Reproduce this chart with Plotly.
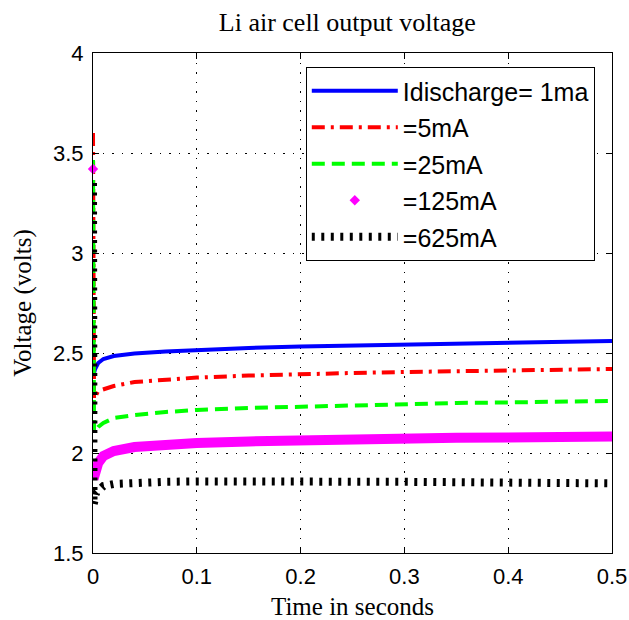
import plotly.graph_objects as go

# ---- data ----
x_ticks = [0, 0.1, 0.2, 0.3, 0.4, 0.5]
y_ticks = [1.5, 2, 2.5, 3, 3.5, 4]

t_blue = [0, 0.002, 0.005, 0.01, 0.02, 0.04, 0.07, 0.1, 0.15, 0.2, 0.25, 0.3, 0.35, 0.4, 0.45, 0.5]
v_blue = [2.38, 2.42, 2.45, 2.47, 2.485, 2.497, 2.507, 2.515, 2.525, 2.533, 2.538, 2.543, 2.548, 2.552, 2.556, 2.56]

t_red = [0, 0.001, 0.005, 0.01, 0.02, 0.04, 0.07, 0.1, 0.15, 0.2, 0.25, 0.3, 0.35, 0.4, 0.45, 0.5]
v_red = [3.6, 2.27, 2.31, 2.32, 2.335, 2.355, 2.368, 2.377, 2.387, 2.395, 2.40, 2.405, 2.41, 2.413, 2.417, 2.42]

t_green = [0, 0.001, 0.005, 0.01, 0.02, 0.04, 0.07, 0.1, 0.15, 0.2, 0.25, 0.3, 0.35, 0.4, 0.45, 0.5]
v_green = [3.465, 2.10, 2.13, 2.15, 2.175, 2.19, 2.205, 2.215, 2.225, 2.232, 2.238, 2.245, 2.25, 2.253, 2.256, 2.26]

t_mag_start = [0]
v_mag_start = [3.42]
t_mag = [0.0005, 0.002, 0.005, 0.01, 0.02, 0.04, 0.07, 0.1, 0.15, 0.2, 0.25, 0.3, 0.35, 0.4, 0.45, 0.5]
v_mag = [1.87, 1.90, 1.95, 1.985, 2.01, 2.03, 2.043, 2.05, 2.058, 2.065, 2.07, 2.073, 2.076, 2.078, 2.08, 2.082]

t_black = [0, 0.0005, 0.003, 0.006, 0.01, 0.02, 0.04, 0.07, 0.1, 0.15, 0.2, 0.25, 0.3, 0.35, 0.4, 0.45, 0.5]
v_black = [3.35, 1.74, 1.80, 1.82, 1.835, 1.845, 1.852, 1.856, 1.858, 1.86, 1.86, 1.858, 1.856, 1.854, 1.852, 1.85, 1.848]

names = ["Idischarge= 1ma", "=5mA", "=25mA", "=125mA", "=625mA"]

fig = go.Figure()
fig.add_trace(go.Scatter(x=t_blue, y=v_blue, mode="lines", name=names[0], legendgroup="a",
                         line=dict(color="#0000ff", width=4)))
fig.add_trace(go.Scatter(x=t_red, y=v_red, mode="lines", name=names[1], legendgroup="b",
                         line=dict(color="#ff0000", width=4, dash="13px,6px,3px,6px")))
fig.add_trace(go.Scatter(x=t_green, y=v_green, mode="lines", name=names[2], legendgroup="c",
                         line=dict(color="#00ff00", width=4, dash="13px,7px")))
fig.add_trace(go.Scatter(x=t_mag, y=v_mag, mode="lines", name=names[3], legendgroup="d",
                         showlegend=False, line=dict(color="#ff00ff", width=10)))
fig.add_trace(go.Scatter(x=t_mag_start, y=v_mag_start, mode="markers", name=names[3], legendgroup="d",
                         cliponaxis=False,
                         marker=dict(color="#ff00ff", symbol="diamond", size=8)))
fig.add_trace(go.Scatter(x=t_black, y=v_black, mode="lines", name=names[4], legendgroup="e",
                         line=dict(color="black", width=8, dash="3px,6.5px")))

axis_common = dict(
    showline=True, linecolor="black", linewidth=1, mirror="ticks",
    ticks="inside", ticklen=6, tickcolor="black",
    showgrid=True, gridcolor="black", gridwidth=1, griddash="1.5px,8px",
    zeroline=False, automargin=False,
    tickfont=dict(family="Liberation Sans, Arial, sans-serif", size=22, color="black"),
)

fig.update_xaxes(range=[0, 0.5], tickvals=x_ticks, ticktext=[str(v) for v in x_ticks],
                 ticklabelstandoff=4,
                 title=dict(text="Time in seconds", standoff=10,
                            font=dict(family="Liberation Serif, Times New Roman, serif", size=25, color="black")),
                 **axis_common)
fig.update_yaxes(range=[1.5, 4], tickvals=y_ticks, ticktext=["1.5", "2", "2.5", "3", "3.5", "4"],
                 ticklabelstandoff=4,
                 title=dict(text="Voltage (volts)", standoff=14,
                            font=dict(family="Liberation Serif, Times New Roman, serif", size=25, color="black")),
                 **axis_common)

fig.update_layout(
    width=629, height=620,
    margin=dict(l=93, r=17, t=53, b=67),
    paper_bgcolor="white", plot_bgcolor="white",
    title=dict(text="Li air cell output voltage", x=0.49, xref="paper", y=0.965, yanchor="middle",
               font=dict(family="Liberation Serif, Times New Roman, serif", size=26, color="black")),
    legend=dict(x=0.41, y=0.972, xanchor="left", yanchor="top",
                bgcolor="white", bordercolor="black", borderwidth=1,
                font=dict(family="Liberation Sans, Arial, sans-serif", size=25, color="black"),
                tracegroupgap=1, itemwidth=86),
    showlegend=True,
)

fig.write_html("out.html", config={"displayModeBar": False},
               post_script="document.body.style.margin='0px';")
